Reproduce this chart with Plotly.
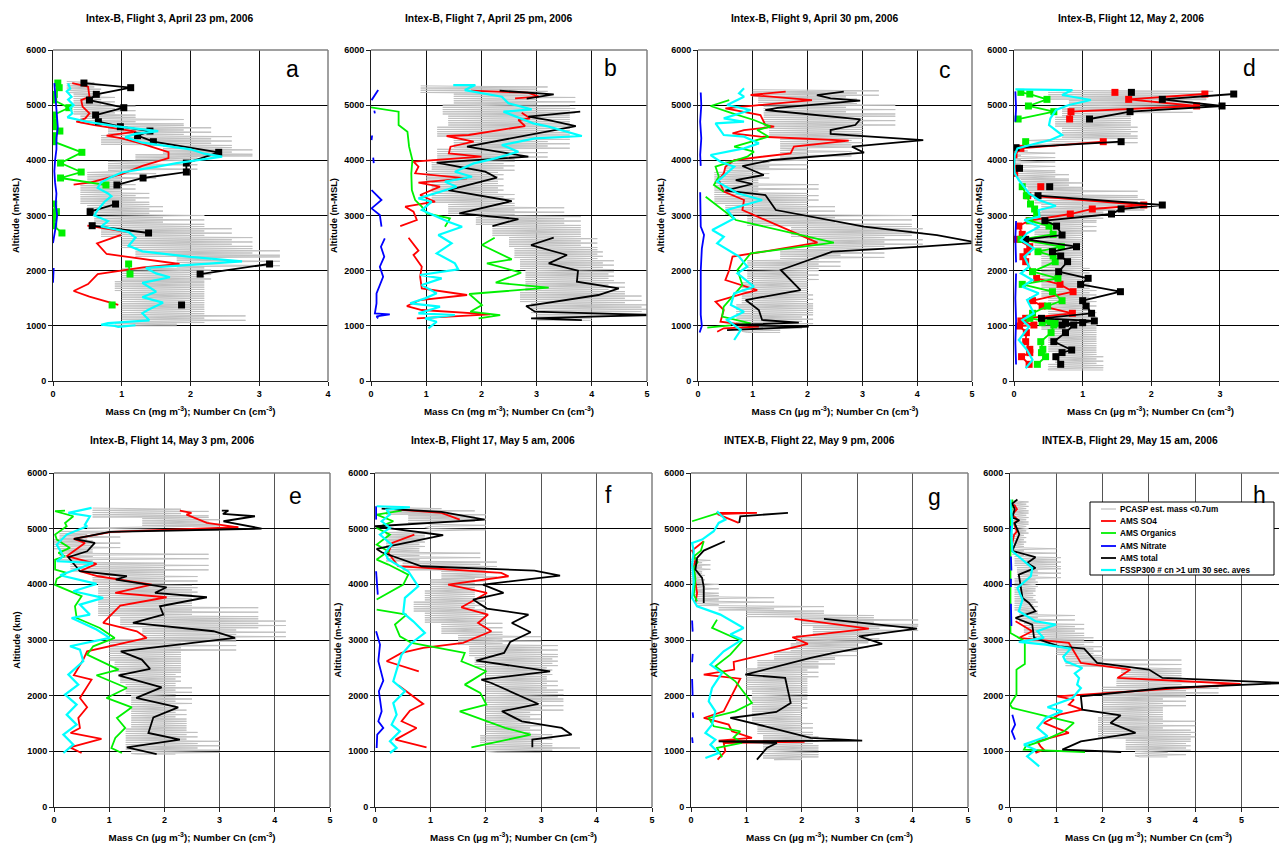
import plotly.graph_objects as go

W, H = 1287, 844          # reference picture size
OFF = 8                   # page body margin of the browser
FW, FH = W - OFF, H - OFF # figure size so that it ends at the window edge
FONT = "Liberation Sans, Arial, Helvetica, sans-serif"

# ---------------- Panel a : Flight 3 ----------------
A_PCASP = [(5430,0.2,0.6),(5200,0.3,0.7),(5000,0.3,0.9),(4800,0.4,1.2),(4650,0.8,1.9),(4450,0.7,2.3),
           (4250,1.6,2.6),(4100,1.2,2.9),(4000,0.8,2.1),(3800,0.5,1.5),(3600,0.4,1.0),(3400,0.4,1.2),
           (3200,0.5,1.4),(3000,0.6,1.6),(2800,0.7,2.2),(2600,1.0,2.6),(2400,1.2,2.9),(2250,1.8,3.3),
           (2050,1.0,2.3),(1800,0.9,2.2),(1600,1.0,2.2),(1400,1.0,2.2),(1200,1.0,2.2),(1050,0.9,2.8),(1000,1.0,1.8)]
A_SO4 = [(5400,0.28),(5335,0.51),(5153,0.53),(5093,0.41),(4973,0.43),(4852,0.53),(4760,0.47),(4700,0.34),
         (4640,0.60),(4519,1.21),(4447,0.78),(4400,1.00),(4300,1.30),(4150,1.68),(4040,1.68),(3900,1.30),
         (3750,1.00),(3600,0.55),(3560,0.30),None,(2815,0.50),(2700,1.09),None,(2650,0.99),(2495,0.64),
         (2302,0.78),(2121,1.84),(2060,1.31),(1939,0.65),(1758,0.51),(1631,0.30),(1529,0.53),(1378,0.95)]
A_ORG = [(5401,0.07),(5317,0.09),(5196,0.02),(5093,0.01),(4954,0.23),(4821,0.01),(4700,0.01),(4610,0.01),
         (4531,0.10),(4447,0.01),(4338,0.01),(4145,0.42),(3951,0.11),(3788,0.41),(3680,0.11),(3553,0.77),
         None,(3208,0.01),(3069,0.05),(2948,0.01),(2815,0.01),(2683,0.13),None,(2121,1.10),(1939,1.12),
         None,(1378,0.86)]
A_NO3 = [(5400,0.02),(5200,0.03),(5000,0.04),(4800,0.06),(4600,0.07),(4400,0.05),(4200,0.05),(4000,0.03),
         (3800,0.02),(3600,0.03),(3400,0.05),(3200,0.04),(3000,0.06),(2800,0.04),(2600,0.01),(2500,0.0),
         None,(2050,0.01),(1900,0.0),(1780,0.0)]
A_TOT = [(5401,0.45),(5317,1.13),(5196,0.63),(5093,0.53),(4954,1.03),(4821,0.62),(4700,0.66),(4610,0.98),
         (4531,1.41),(4447,1.23),(4338,1.46),(4145,2.41),(3951,1.94),(3788,1.94),(3680,1.31),(3553,0.93),
         None,(3208,0.91),(3069,0.54),None,(2815,0.57),(2683,1.39),None,(2121,3.15),(1939,2.14),
         None,(1378,1.87)]
A_FSSP = [(5395,0.22),(5300,0.25),(5250,0.20),(5150,0.27),(5100,0.22),(5000,0.30),(4950,0.25),(4850,0.28),
          (4779,0.21),(4700,0.50),(4620,0.90),(4560,1.30),(4530,1.53),(4480,1.20),(4420,1.05),(4320,1.30),
          (4200,2.00),(4120,2.20),(4066,2.46),(3950,1.80),(3880,1.50),(3780,1.00),(3700,0.85),(3600,0.70),
          (3500,0.65),(3400,0.80),(3350,0.85),(3250,0.75),(3100,0.65),(3000,0.60),(2900,0.80),(2800,0.70),
          (2700,1.10),(2600,1.20),(2450,1.10),(2350,1.30),(2250,2.00),(2170,2.75),(2050,1.35),(1950,1.50),
          (1880,1.70),(1780,1.30),(1700,1.40),(1620,1.50),(1520,1.30),(1420,1.60),(1300,1.40),(1230,1.30),
          (1100,1.40),(1050,0.80),(1020,0.70),(1000,0.90),(980,0.95),(1010,1.20)]

# ---------------- Panel b : Flight 7 ----------------
B_PCASP = [(5350,0.9,3.2),(5200,1.5,3.0),(5000,1.3,3.7),(4800,1.4,3.6),(4600,1.2,3.6),(4400,1.5,3.6),
           (4200,1.2,3.2),(4000,1.1,2.6),(3800,1.0,2.4),(3600,1.1,2.3),(3400,1.1,2.4),(3200,1.4,2.6),
           (3000,1.9,3.5),(2800,2.2,3.8),(2600,2.5,3.8),(2400,2.6,4.1),(2200,2.7,4.2),(2000,2.8,4.4),
           (1800,2.8,4.3),(1600,2.7,4.6),(1400,2.9,4.9),(1200,3.0,5.0),(1100,3.0,4.0)]
B_SO4 = [(5262,1.81),(5226,2.84),(5154,3.04),(5123,2.61),None,(4864,2.73),(4761,2.88),(4731,2.67),(4622,2.79),
         (4459,1.77),(4441,1.37),(4338,1.86),(4247,1.44),(4126,1.41),(4066,2.00),(3975,0.77),(3885,0.86),
         (3764,0.80),(3673,1.74),(3595,0.86),(3522,1.25),(3371,0.89),(3250,1.16),(3160,0.62),(3069,0.77),
         (2918,0.83),(2809,0.53),None,(2598,0.68),(2362,0.86),(2284,0.77),(2072,0.92),(1890,0.89),(1679,0.92),
         (1559,1.74),(1468,0.89),(1359,0.65),(1287,0.92),(1208,2.16),(1136,0.83)]
B_ORG = [(4960,0.00),(4882,0.50),(4640,0.50),(4519,0.66),(4247,0.69),(4005,0.75),(3764,0.73),(3461,0.74),
         (3280,0.80),(3160,0.92),(3039,1.01),(2948,1.43),(2797,1.34),None,(2598,2.24),(2465,2.01),(2205,2.55),
         (2132,2.10),(1963,2.72),(1782,2.26),(1692,3.22),(1577,1.78),(1378,2.01),(1257,1.80),(1196,2.34),
         (1136,1.95)]
B_NO3 = [(5273,0.13),(5200,0.08),(5091,0.01),None,(4900,0.06),(4850,0.07),None,(4450,0.02),(4367,0.01),None,
         (4050,0.04),(4005,0.04),(3950,0.05),None,(3461,0.01),(3280,0.19),(3129,0.01),(3008,0.16),(2797,0.19),
         None,(2585,0.25),(2434,0.18),(2253,0.24),(2072,0.16),(1890,0.22),(1589,0.10),(1408,0.10),(1226,0.07),
         (1208,0.34),(1170,0.10),(1136,0.13)]
B_TOT = [(5262,2.33),(5196,3.31),(5117,2.82),None,(4882,3.79),(4791,2.85),(4731,3.22),(4622,3.71),(4247,1.74),
         (4066,2.85),(3957,1.19),(3794,2.07),(3685,2.28),(3461,1.40),(3262,2.55),(3039,1.60),(2936,2.67),
         (2809,2.20),None,(2598,3.31),(2465,2.90),(2284,3.55),(2132,3.22),(2000,3.75),(1800,3.73),(1679,4.49),
         (1559,4.12),(1359,2.81),(1257,2.97),(1196,5.10),(1136,2.90),(1105,3.82)]
B_FSSP = [(5365,1.49),(5365,1.89),(5273,1.70),(5154,2.37),(5033,2.49),(4924,2.91),(4882,2.40),(4670,2.94),
          (4610,3.22),(4441,3.82),(4398,2.97),(4278,2.37),(4157,2.67),(4036,2.25),(3945,1.86),(3794,1.52),
          (3703,1.83),(3613,1.34),(3522,1.55),(3310,0.86),(3250,1.10),(3099,0.92),(2887,1.40),(2797,1.65),
          (2646,1.22),(2495,1.46),(2314,1.19),(2132,1.52),(2024,1.58),(1921,0.89),(1860,1.28),(1740,0.92),
          (1589,1.19),(1498,0.98),(1408,0.71),(1347,1.25),(1226,0.86),(1196,1.52),(1136,0.98),(1075,1.19),
          (955,1.04)]

# ---------------- Panel c : Flight 9 ----------------
C_PCASP = [(5280,1.0,3.3),(5150,1.1,2.9),(5000,1.2,2.7),(4800,1.2,3.6),(4600,1.3,3.0),(4400,1.5,3.0),
           (4200,1.5,2.8),(4000,0.5,2.0),(3800,0.3,1.3),(3600,0.3,1.1),(3400,0.3,2.2),(3200,0.5,2.0),
           (3000,0.9,2.5),(2800,1.7,3.9),(2600,2.0,4.1),(2400,1.5,3.4),(2200,0.9,2.6),(2000,0.9,2.2),
           (1800,0.8,2.0),(1600,0.8,2.0),(1400,0.7,2.1),(1200,0.7,2.1),(1000,0.8,1.9),(880,0.9,1.5)]
C_SO4 = [(5244,1.60),(5184,0.96),(5093,2.08),(4942,0.50),(4821,1.14),(4640,1.23),(4610,1.39),(4549,0.84),
         (4489,0.63),(4429,1.14),(4356,2.75),(4247,1.75),(4126,1.69),(4006,0.66),(3885,0.50),(3764,0.47),
         (3643,0.38),(3432,0.47),(3281,0.84),(3099,0.81),(2507,2.18),(2254,0.63),(2012,0.57),(1831,0.50),
         (1649,1.08),(1589,0.84),(1438,0.32),(1287,0.47),(1076,0.41),(985,1.11),(955,0.47),(894,0.35)]
C_ORG = [(5093,0.57),(4985,0.23),(4852,0.63),(4731,1.02),(4610,1.32),(4549,1.08),(4429,1.29),(4247,0.66),
         (4157,1.02),(4066,0.90),(3885,0.32),(3704,0.38),(3553,0.29),(3432,0.47),None,(3341,0.14),(3039,0.53),
         (2918,0.69),(2507,2.48),(2314,0.96),(2012,0.72),(1740,0.81),(1347,0.47),(1166,0.44),(1045,0.96),
         (967,0.17)]
C_NO3 = [(5230,0.05),(5000,0.06),(4700,0.04),(4400,0.06),(4100,0.04),(3900,0.05),None,(3420,0.04),(3100,0.05),
         (2800,0.05),(2650,0.11),(2400,0.07),(2000,0.05),(1600,0.05),(1200,0.05),(1000,0.07),(880,0.03)]
C_TOT = [(5244,2.66),(5184,2.17),(5124,2.42),(5081,2.96),(4950,1.45),(4912,1.23),(4743,2.96),(4640,2.87),
         (4549,2.42),(4477,2.42),(4368,4.11),(4247,2.81),(4139,3.03),(4006,1.35),(3897,0.81),(3734,1.20),
         (3643,0.69),(3571,0.99),(3450,0.50),(3371,1.23),(3099,1.42),(2798,3.03),(2646,4.36),(2507,5.10),
         (2435,4.09),(2344,2.45),(2012,1.51),(1649,1.87),(1468,0.87),(1287,1.11),(1106,1.17),(1057,1.84),
         (1015,0.60),(985,2.02),(924,0.53)]
C_FSSP = [(5305,0.84),(5214,0.75),(5154,0.84),(5003,0.53),(4912,0.96),(4761,0.47),(4700,0.84),(4670,0.32),
          (4459,0.47),(4429,0.84),(4308,1.11),(4217,0.84),(4096,0.23),(3976,0.41),(3885,0.66),(3613,0.35),
          (3402,0.72),(3281,1.17),(3099,0.53),(2948,0.66),(2737,0.26),(2616,0.47),(2495,0.35),(2254,0.75),
          (2072,0.90),(1952,0.72),(1710,1.02),(1589,0.66),(1378,0.60),(1257,0.84),(1106,0.53),(924,0.78),
          (743,0.66)]

# ---------------- Panel d : Flight 12 ----------------
D_PCASP = [(5270,0.5,2.9),(5100,0.8,2.8),(4950,0.7,2.6),(4800,0.6,1.7),(4600,0.7,1.7),(4400,0.6,1.8),
           (4250,0.05,0.2),(4150,0.0,0.1),(3800,0.05,0.6),(3650,0.1,0.8),(3500,0.2,1.0),(3350,0.3,1.8),
           (3200,0.4,1.9),(3050,0.3,1.3),(2900,0.3,1.2),(2700,0.3,1.0),(2500,0.3,1.0),(2300,0.4,1.0),
           (2100,0.4,1.0),(1900,0.4,1.1),(1700,0.4,1.1),(1500,0.5,1.2),(1300,0.5,1.1),(1100,0.4,1.2),
           (900,0.5,1.2),(700,0.5,1.2),(500,0.6,1.2),(300,0.5,1.3),(200,0.5,1.3)]
D_SO4 = [(5232,1.47),None,(5202,2.78),(5105,1.67),(4985,2.66),(4882,0.83),(4749,0.81),None,(4338,1.30),
         (4217,0.10),(4100,0.00),(3855,0.00),(3764,0.01),None,(3522,0.39),None,(3359,0.20),(3190,1.89),
         (3118,1.14),(3027,0.82),(2906,0.22),(2809,0.07),(2658,0.12),(2568,0.05),(2435,0.23),(2344,0.19),
         (2253,0.13),(2163,0.17),(1861,0.33),(1752,0.67),(1619,0.86),(1456,0.27),(1359,0.41),(1227,0.85),
         (1136,0.17),(1088,0.10),(1015,0.29),(997,0.08),(876,0.18),(713,0.17),(574,0.23),(514,0.23),
         (441,0.11),(302,0.22)]
D_ORG = [(5232,0.10),(5202,0.23),(5105,0.48),(4985,0.21),(4882,0.58),(4749,0.06),None,(4338,0.17),None,
         (3522,0.12),(3359,0.18),(3208,0.24),(3118,0.30),(3027,0.33),(2906,0.23),(2809,0.51),(2658,0.57),
         (2568,0.10),(2435,0.69),(2344,0.35),(2266,0.57),(2163,0.60),(1982,0.27),(1861,0.64),(1752,0.12),
         (1619,0.56),(1456,0.70),(1359,0.49),(1227,0.27),(1136,0.23),(1076,0.53),(1057,0.41),(1045,0.60),
         (1015,0.58),(876,0.54),(713,0.39),(574,0.42),(514,0.40),(441,0.46),(302,0.34)]
D_NO3 = [(5250,0.02),(4950,0.03),(4700,0.02),None,(2900,0.03),(2600,0.02),(2150,0.03),None,(1950,0.03),
         (1500,0.02),(1100,0.03),(700,0.02),(300,0.03)]
D_TOT = [(5232,1.71),None,(5202,3.20),(5105,2.16),(4985,3.03),(4882,1.69),(4749,1.10),None,(4338,1.56),
         (4229,0.03),None,(3855,0.08),None,(3522,0.52),None,(3359,0.35),(3190,2.16),(3118,1.56),(3027,1.42),
         (2906,0.45),(2809,0.62),(2646,0.70),(2568,0.17),(2435,0.91),(2344,0.56),(2266,0.68),(2163,0.78),
         (1982,0.65),(1861,1.08),(1752,0.97),(1619,1.55),(1456,1.00),(1359,1.05),(1227,1.13),(1136,0.40),
         (1088,1.17),(1057,1.00),(1045,0.75),(1015,0.70),(1015,0.87),(876,0.75),(713,0.58),(562,0.84),
         (514,0.70),(441,0.61),(302,0.68)]
D_FSSP = [(5287,0.02),(5274,0.85),(5184,0.70),(5093,1.12),(5003,0.80),(4912,0.61),(4761,0.53),(4640,0.51),
          (4459,0.70),(4368,0.53),(4296,0.29),(4217,0.05),(4096,0.01),(3885,0.00),(3764,0.01),(3643,0.07),
          (3402,0.22),(3281,0.36),(3172,0.61),(3099,0.36),(2979,0.37),(2918,0.15),(2797,0.37),(2677,0.19),
          (2556,0.10),(2405,0.29),(2253,0.15),(2072,0.22),(1952,0.10),(1831,0.27),(1710,0.12),(1589,0.36),
          (1468,0.19),(1227,0.29),(1106,0.12),(985,0.22),(743,0.07),(562,0.19),(381,0.27),(230,0.17)]

# ---------------- Panel e : Flight 14 ----------------
E_PCASP = [(5370,0.7,2.3),(5200,1.6,2.8),(5050,1.7,3.0),(4950,0.1,0.6),(4800,0.0,1.2),(4600,0.1,0.7),
           (4400,0.3,2.8),(4200,0.7,2.0),(4000,0.8,2.6),(3800,0.8,2.5),(3600,0.8,2.5),(3400,1.2,3.7),
           (3200,1.6,4.2),(3000,1.0,3.3),(2800,1.0,2.3),(2600,1.1,2.3),(2400,1.2,2.3),(2200,1.3,2.2),
           (2000,1.4,2.5),(1800,1.4,2.2),(1600,1.4,2.4),(1400,1.3,2.4),(1200,1.3,2.6),(1000,1.4,3.0),(950,1.5,2.2)]
E_SO4 = [(5325,2.28),(5283,2.49),(5253,2.40),(5103,2.77),(5025,3.34),(4942,1.04),(4816,0.36),(4744,0.56),
         (4505,0.23),(4367,0.77),(4235,0.47),(4145,0.80),(3995,1.77),(3846,1.11),(3768,2.04),(3618,1.20),
         (3306,0.89),(3157,1.50),(3037,1.68),(2797,0.60),(2648,0.53),(2366,0.36),(2288,0.68),(1959,0.47),
         (1791,0.60),(1599,0.44),(1420,0.47),(1330,0.30),(1222,0.86),(1072,0.29),(970,0.50)]
E_ORG = [(5325,0.20),(5313,0.02),(5223,0.35),(5103,0.20),(5043,0.23),(4894,0.02),(4804,0.05),(4654,0.29),
         (4564,0.08),(4505,0.20),(4445,0.02),(4265,0.02),(4205,0.23),(4100,0.05),(3990,0.02),(3786,0.50),
         (3606,0.38),(3396,0.41),(3217,0.83),(3037,1.10),(2887,0.71),(2737,0.60),(2468,1.17),(2366,0.77),
         (2138,1.32),(1959,0.95),(1791,1.41),(1599,1.14),(1420,1.29),(1240,1.11),(1060,1.04),(970,1.23)]
E_NO3 = []
E_TOT = [(5325,3.04),(5325,3.16),(5265,3.06),(5223,3.64),(5133,3.07),(5001,3.76),(4942,1.01),(4816,0.36),
         (4744,0.74),(4594,0.60),(4487,0.26),(4235,0.47),(4145,1.32),(4085,1.12),(3947,2.04),(3846,1.83),
         (3768,2.77),(3606,1.92),(3456,1.98),(3306,1.43),(3157,2.89),(3037,3.28),(2797,1.21),(2648,1.59),
         (2480,1.74),(2366,1.17),(2150,1.95),(1959,1.49),(1791,2.25),(1611,1.80),(1330,1.71),(1210,2.28),
         (1072,1.32),(952,1.86)]
E_FSSP = [(5373,0.68),(5283,0.26),(5223,0.65),(5073,0.56),(5043,0.60),(4894,0.23),(4714,0.05),(4505,0.17),
          (4415,0.05),(4385,0.71),(4295,0.47),(4163,0.11),(4007,0.77),(3876,0.35),(3756,0.89),(3636,0.47),
          (3456,0.65),(3396,0.32),(3187,0.77),(3037,1.01),(2887,0.29),(2827,0.47),(2618,0.53),(2378,0.26),
          (2198,0.44),(2019,0.20),(1839,0.41),(1659,0.23),(1480,0.41),(1300,0.17),(1120,0.35),(970,0.17)]

# ---------------- Panel f : Flight 17 ----------------
F_PCASP = [(5380,0.2,1.2),(5250,0.6,1.8),(5100,1.0,2.0),(4950,0.2,0.9),(4800,0.2,0.9),(4600,0.2,0.8),
           (4400,0.5,1.9),(4250,1.2,2.2),(4100,1.0,2.0),(3900,0.9,1.8),(3700,0.7,1.8),(3500,0.9,2.0),
           (3300,1.2,2.0),(3100,1.5,2.3),(2900,1.7,3.0),(2700,1.8,3.3),(2500,2.0,3.2),(2300,2.0,3.1),
           (2100,2.0,3.3),(1900,2.0,3.4),(1700,2.0,3.0),(1500,2.0,2.8),(1300,1.9,3.0),(1100,2.0,3.2),
           (1000,2.0,3.7),(980,2.2,3.0)]
F_SO4 = [(5343,0.42),(5283,1.20),(5163,1.53),None,(4894,0.71),(4744,0.31),(4564,0.24),(4325,0.42),
         (4205,2.28),(4145,2.41),(3995,1.32),(3846,2.02),(3588,1.56),(3456,2.04),(3306,1.86),(3157,2.10),
         (2947,1.59),(2857,0.87),(2767,0.48),(2618,0.21),(2438,0.79),None,(2186,0.42),(1851,0.87),
         (1731,0.63),(1540,0.48),(1420,0.75),(1210,0.37),(1072,0.93)]
F_ORG = [(5325,0.48),(5253,0.03),(5133,0.33),(5013,0.03),(4894,0.27),(4714,0.03),(4594,0.24),(4445,0.03),
         (4355,0.24),(4265,0.42),(4175,0.60),(3995,0.51),(3726,0.03),None,(3546,0.03),(3456,0.57),
         (3277,0.36),(3067,0.45),(2947,0.66),(2767,1.62),(2618,1.56),(2438,2.01),(2288,1.77),(2198,1.62),
         (2050,1.90),(1839,2.01),(1719,1.53),(1420,2.35),(1300,2.81),(1072,1.74)]
F_NO3 = [(5403,0.02),(5163,0.02),None,(4235,0.02),(4000,0.03),(3816,0.05),None,(3157,0.02),(2917,0.09),
         (2618,0.06),(2270,0.15),(2079,0.07),(1719,0.12),(1540,0.06),(1420,0.15),(1300,0.04),(1060,0.03)]
F_TOT = [(5361,0.12),(5301,1.20),(5163,1.98),(5043,0.00),(4882,1.23),(4636,0.03),(4576,0.12),(4325,0.84),
         (4247,2.88),(4157,3.34),(3995,1.95),(3846,2.32),(3726,1.77),(3564,2.02),(3456,2.77),(3306,2.47),
         (3139,2.81),(2965,2.44),(2767,2.33),(2630,1.83),(2438,3.16),(2288,1.92),(2228,2.10),(1851,2.95),
         (1719,2.29),(1540,2.65),(1420,3.37),(1300,3.55),(1210,2.84),(1072,2.84)]
F_FSSP = [(5403,0.03),(5385,0.63),(5343,0.21),(5253,0.27),(5133,0.12),(5013,0.27),(4894,0.09),(4714,0.30),
          (4564,0.18),(4445,0.24),(4235,0.60),(3965,0.78),(3756,0.54),(3486,0.51),(3336,0.69),(3127,0.90),
          (2947,0.66),(2737,0.48),(2558,0.42),(2258,0.33),(2079,0.54),(1869,0.33),(1659,0.39),(1480,0.30),
          (1360,0.45),(1180,0.27),(1060,0.39),(970,0.27)]

# ---------------- Panel g : Flight 22 ----------------
G_PCASP = [(4450,0.0,0.35),(4200,0.0,0.2),(4000,0.05,0.25),(3800,0.1,0.5),(3600,0.5,1.5),(3500,1.0,2.4),
           (3400,2.0,3.3),(3250,2.2,4.1),(3100,1.9,3.4),(2950,1.8,3.2),(2800,1.5,3.0),(2650,1.2,2.6),
           (2500,1.0,2.3),(2300,1.0,2.1),(2100,1.1,2.1),(1900,1.1,2.1),(1700,1.1,2.0),(1500,1.2,2.0),
           (1300,1.3,2.2),(1100,1.3,2.3),(900,1.3,2.3),(850,1.5,2.0)]
G_SO4 = [(5283,0.46),(5283,1.19),(5260,0.48),(5103,0.86),None,(4774,0.23),(4606,0.02),(4445,0.08),
         (4300,0.05),(4100,0.07),(3846,0.11),(3666,0.08),None,(3378,1.87),(3205,3.21),(3049,1.83),(2929,2.11),
         (2678,1.07),(2606,0.77),(2468,0.78),(2438,0.62),(2378,0.23),(2306,0.89),(1719,0.59),(1599,0.23),
         (1551,0.41),(1480,0.68),(1360,0.74),(1240,1.10),(1192,0.50),(1170,2.05),(1150,0.59),(1000,0.62),
         (851,0.48)]
G_ORG = [(5283,0.50),(5133,0.02),None,(4774,0.23),(4606,0.18),(4500,0.05),(4400,0.12),(4295,0.05),
         (4100,0.08),(3816,0.05),(3696,0.11),None,(3366,0.47),(3217,0.38),(2977,0.92),(2737,0.71),
         (2528,0.44),(2258,0.80),(1869,1.10),(1719,0.80),(1599,0.32),(1450,0.41),(1360,0.89),(1252,0.77),
         (1150,0.92),(1060,0.47),(893,0.56)]
G_NO3 = [(3350,0.02),(3150,0.03),None,(2750,0.03),(2600,0.02),None,(2300,0.02),(2000,0.03),None,
         (1700,0.03),(1600,0.04),None,(1250,0.02),(1150,0.03)]
G_TOT = [(5283,1.75),(5223,0.89),(5103,0.87),None,(4774,0.61),(4606,0.23),(4475,0.11),(4265,0.08),
         (4115,0.20),(3953,0.23),(3666,0.23),None,(3378,2.40),(3205,4.08),(3067,3.03),(2929,3.45),
         (2767,2.58),(2678,2.16),(2378,0.98),(2318,1.70),(1869,1.80),(1707,1.54),(1599,0.71),(1450,1.34),
         (1240,2.16),(1192,3.09),(1180,0.50),(1150,1.55),(1060,1.37),(851,1.19)]
G_FSSP = [(5313,0.47),(5163,0.62),(5103,0.50),(4954,0.41),(4804,0.20),(4744,0.02),(4594,0.05),(4355,0.02),
          (4055,0.05),(3756,0.02),(3606,0.11),(3456,0.53),(3217,0.95),(3097,0.71),(3007,0.92),(2797,0.59),
          (2558,0.35),(2408,0.56),(2138,0.38),(1899,0.32),(1719,0.44),(1480,0.38),(1330,0.26),(1210,0.44),
          (1120,0.35),(970,0.50),(881,0.26)]

# ---------------- Panel h : Flight 29 ----------------
H_PCASP = [(5500,0.05,0.4),(5300,0.05,0.35),(5100,0.1,0.4),(4900,0.05,0.35),(4700,0.05,0.3),(4500,0.1,1.0),
           (4300,0.15,1.1),(4100,0.1,0.6),(3900,0.1,0.55),(3700,0.1,0.5),(3500,0.2,0.6),(3300,0.3,1.4),
           (3100,0.4,1.6),(2900,1.0,1.8),(2700,1.2,2.0),(2500,2.4,3.7),(2300,2.3,3.7),(2150,2.0,4.5),
           (2000,2.0,3.8),(1800,2.0,3.3),(1600,1.9,3.3),(1400,1.9,4.0),(1200,2.5,3.9),(1000,2.7,3.8),(900,2.8,3.4)]
H_SO4 = [(5433,0.09),(5350,0.15),(5250,0.05),(5150,0.18),(5100,0.08),(5013,0.12),(4950,0.15),(4894,0.09),
         (4750,0.05),(4594,0.01),None,(3336,0.12),(3157,0.48),(3037,0.19),(2947,1.27),(2588,1.53),(2468,2.60),
         (2318,2.32),(2210,4.98),(1989,1.02),(1929,1.38),(1839,1.27),(1749,1.56),(1659,1.06),(1510,0.73),
         (1330,1.27),(1180,0.59),(1090,0.66),(1030,0.73),(970,0.55)]
H_ORG = [(5523,0.05),(5073,0.01),(4475,0.01),(3277,0.01),(3127,0.01),(2977,0.32),(2570,0.32),(2468,0.14),
         (2019,0.14),(1839,0.00),(1779,0.05),(1510,1.38),(1360,1.17),(1210,0.77),(1090,0.34),(1030,0.30),
         (988,1.62)]
H_NO3 = [(5050,0.02),(4850,0.03),None,(4500,0.02),(4250,0.03),None,(4100,0.02),(3950,0.02),None,
         (3650,0.02),(3250,0.03),None,(1659,0.05),(1480,0.11),(1360,0.04),(1210,0.11)]
H_TOT = [(5523,0.16),(5450,0.05),(5350,0.10),(5200,0.05),(5150,0.20),(5100,0.10),(5000,0.15),(4900,0.20),
         (4800,0.15),(4600,0.05),(4487,0.55),(4385,0.37),(4295,0.55),(4175,0.19),(3756,0.27),(3666,0.41),
         (3516,0.55),(3396,0.12),(3277,0.48),(3037,0.52),(2887,1.06),(2845,1.60),(2588,1.88),(2468,3.00),
         (2318,3.29),(2228,5.95),(2138,3.36),(1989,1.53),(1749,1.56),(1647,2.39),(1510,2.17),(1330,2.71),
         (1180,1.53),(1030,1.13),(988,2.40)]
H_FSSP = [(5523,0.00),(5300,0.03),(5100,0.05),(4900,0.03),(4700,0.05),(4594,0.05),(4295,0.48),(4145,0.45),
          (3936,0.16),(3726,0.27),(3516,0.19),(3336,0.55),(3277,0.99),(3157,0.59),(3037,0.73),(2965,0.19),
          (2917,0.77),(2845,1.31),(2700,1.15),(2618,1.20),(2498,1.56),(2400,1.40),(2318,1.49),(2200,1.45),
          (2138,1.53),(1959,1.35),(1791,0.81),(1719,1.13),(1599,0.77),(1420,0.59),(1270,0.81),(1120,0.30),
          (1030,0.55),(911,0.37),(731,0.63)]

SERIES_LABELS = ["PCASP est. mass &lt;0.7um", "AMS SO4", "AMS Organics", "AMS Nitrate", "AMS total",
                 "FSSP300 # cn &gt;1 um 30 sec. aves"]
TITLES = ["Intex-B, Flight 3, April 23 pm, 2006", "Intex-B, Flight 7, April 25 pm, 2006",
          "Intex-B, Flight 9, April 30 pm, 2006", "Intex-B, Flight 12, May 2, 2006",
          "Intex-B, Flight 14, May 3 pm, 2006", "Intex-B, Flight 17, May 5 am, 2006",
          "INTEX-B, Flight 22, May 9 pm, 2006", "INTEX-B, Flight 29, May 15 am, 2006"]
LETTERS = ["a", "b", "c", "d", "e", "f", "g", "h"]
YTITLES = ["Altitude (m-MSL)"] * 4 + ["Altitude (km)"] + ["Altitude (m-MSL)"] * 3
XUNITS = ["mg", "mg", "µg", "µg", "µg", "µg", "µg", "µg"]
X_TICKS = [[0, 1, 2, 3, 4]] + [[0, 1, 2, 3, 4, 5]] * 2 + [[0, 1, 2, 3, 4]] + [[0, 1, 2, 3, 4, 5]] * 3 + [[0, 1, 2, 3, 4, 5, 6]]
Y_TICKS = [0, 1000, 2000, 3000, 4000, 5000, 6000]

DATA = [
    (A_PCASP, A_SO4, A_ORG, A_NO3, A_TOT, A_FSSP),
    (B_PCASP, B_SO4, B_ORG, B_NO3, B_TOT, B_FSSP),
    (C_PCASP, C_SO4, C_ORG, C_NO3, C_TOT, C_FSSP),
    (D_PCASP, D_SO4, D_ORG, D_NO3, D_TOT, D_FSSP),
    (E_PCASP, E_SO4, E_ORG, E_NO3, E_TOT, E_FSSP),
    (F_PCASP, F_SO4, F_ORG, F_NO3, F_TOT, F_FSSP),
    (G_PCASP, G_SO4, G_ORG, G_NO3, G_TOT, G_FSSP),
    (H_PCASP, H_SO4, H_ORG, H_NO3, H_TOT, H_FSSP),
]

# ---------------- layout / style (pixels of the reference picture) ----------------
COLORS = ["#C0C0C0", "#FF0000", "#00F000", "#0000FF", "#000000", "#00FFFF"]
WIDTHS = [1, 1.8, 1.8, 1.8, 1.8, 2.2]
MARKED = [(2, 4), (), (), (1, 2, 4), (), (), (), ()]   # series with square markers
PLOT_X = [(53, 328, 4), (371, 647, 5), (698, 972, 5), (1014, 1287, 3.976),
          (54, 330, 5), (375, 652, 5), (691, 968, 5), (1010, 1287, 5.98)]
PLOT_Y = [(50, 381)] * 4 + [(473, 807)] * 4
VGRID = ["#111111"] * 4 + ["#555555"] * 4
TITLE_XY = [(170, 18), (489, 18), (815, 18), (1131, 18), (172, 441), (493, 441), (809, 441), (1130, 441)]
LETTER_XY = [(292, 69), (610, 68), (945, 70), (1249, 68), (295, 496), (608, 495), (934, 497), (1259, 495)]
YTITLE_STANDOFF = [4, 4, 4, 2, 4, 4, 4, 4]
XTITLE_STANDOFF = [10, 10, 10, 10, 10, 10, 10, 10]


def px(x):
    return min((x - OFF) / FW, 1.0)


def py(y):
    return 1 - (y - OFF) / FH


def split(points):
    xs, ys = [], []
    for p in points:
        if p is None:
            xs.append(None); ys.append(None)
        else:
            ys.append(p[0]); xs.append(p[1])
    return xs, ys


def hatch(rows, step=20):
    """Draw the PCASP band as dense horizontal strokes between the read low / high envelopes."""
    xs, ys = [], []
    k = 0
    for i in range(len(rows) - 1):
        top, lo, hi = rows[i]
        bot, lo_n, hi_n = rows[i + 1]
        a = top
        while a > bot:
            phase = k % 4
            xs.append(lo if phase in (0, 2) else (hi if phase == 1 else hi_n))
            ys.append(a)
            a -= step
            k += 1
    bot, lo, hi = rows[-1]
    xs += [lo, hi]
    ys += [bot, bot]
    return xs, ys


fig = go.Figure()
layout = dict(width=FW, height=FH, margin=dict(l=0, r=0, t=0, b=0, pad=0), paper_bgcolor="white",
              plot_bgcolor="white", showlegend=False, font=dict(family=FONT, color="black"))
annotations = []
shapes = []
tickfont = dict(family=FONT, size=9, color="black", weight="bold")

for i, series in enumerate(DATA):
    n = i + 1
    xa = "x" if n == 1 else f"x{n}"
    ya = "y" if n == 1 else f"y{n}"
    x0, x1, xmax = PLOT_X[i]
    yt, yb = PLOT_Y[i]
    common = dict(showgrid=True, gridwidth=1, zeroline=False, showline=True,
                  linecolor="#202020", linewidth=1, mirror=False, ticks="outside", ticklen=4,
                  tickcolor="#202020", tickfont=tickfont, automargin=False, fixedrange=True)
    layout["xaxis" if n == 1 else f"xaxis{n}"] = dict(
        domain=[px(x0), px(x1)], range=[0, xmax], anchor=ya, tickvals=X_TICKS[i], gridcolor=VGRID[i],
        title=dict(text=f"Mass Cn ({XUNITS[i]} m<sup>-3</sup>); Number Cn (cm<sup>-3</sup>)",
                   standoff=XTITLE_STANDOFF[i],
                   font=dict(family=FONT, size=9.8, color="black", weight="bold")),
        **common)
    layout["yaxis" if n == 1 else f"yaxis{n}"] = dict(
        domain=[py(yb), py(yt)], range=[0, 6000], anchor=xa, tickvals=Y_TICKS, gridcolor="black",
        title=dict(text=YTITLES[i], standoff=YTITLE_STANDOFF[i],
                   font=dict(family=FONT, size=9.4, color="black", weight="bold")),
        **common)
    # grey frame on top and right edges of the plot area
    shapes.append(dict(type="line", xref="paper", yref="paper", x0=px(x0), x1=px(x1),
                       y0=py(yt), y1=py(yt), line=dict(color="#808080", width=1.5), layer="above"))
    if x1 < W:
        shapes.append(dict(type="line", xref="paper", yref="paper", x0=px(x1), x1=px(x1),
                           y0=py(yb), y1=py(yt), line=dict(color="#808080", width=1.5), layer="above"))
    for s, pts in enumerate(series):
        if s == 0:
            xs, ys = hatch(pts)
        else:
            xs, ys = split(pts)
        marked = s in MARKED[i]
        fig.add_trace(go.Scatter(
            x=xs, y=ys, xaxis=xa, yaxis=ya, name=SERIES_LABELS[s],
            mode="lines+markers" if marked else "lines",
            line=dict(color=COLORS[s], width=WIDTHS[s]),
            marker=dict(symbol="square", size=7, color=COLORS[s]) if marked else None,
            connectgaps=False, hoverinfo="skip"))
    tx, ty = TITLE_XY[i]
    annotations.append(dict(text=TITLES[i], x=px(tx), y=py(ty), xref="paper", yref="paper",
                            showarrow=False, xanchor="center", yanchor="middle",
                            font=dict(family=FONT, size=10.3, color="black", weight="bold")))
    lx, ly = LETTER_XY[i]
    annotations.append(dict(text=LETTERS[i], x=px(lx), y=py(ly), xref="paper", yref="paper",
                            showarrow=False, xanchor="center", yanchor="middle",
                            font=dict(family=FONT, size=23, color="black")))

# legend drawn inside panel h
LEG_BOX = (1090, 502, 1274, 575)
LEG_ROWS = [509, 521, 533, 546, 558, 570]
shapes.append(dict(type="rect", xref="paper", yref="paper", x0=px(LEG_BOX[0]), x1=px(LEG_BOX[2]),
                   y0=py(LEG_BOX[3]), y1=py(LEG_BOX[1]), line=dict(color="black", width=1),
                   fillcolor="white", layer="above"))
for s, ry in enumerate(LEG_ROWS):
    shapes.append(dict(type="line", xref="paper", yref="paper", x0=px(1101), x1=px(1116), y0=py(ry), y1=py(ry),
                       line=dict(color=COLORS[s], width=WIDTHS[s] if s else 1.2), layer="above"))
    annotations.append(dict(text=SERIES_LABELS[s], x=px(1118), y=py(ry), xref="paper",
                            yref="paper", showarrow=False, xanchor="left", yanchor="middle",
                            font=dict(family=FONT, size=8.2, color="black", weight="bold")))

layout["annotations"] = annotations
layout["shapes"] = shapes
fig.update_layout(**layout)
fig.write_html("out.html")
